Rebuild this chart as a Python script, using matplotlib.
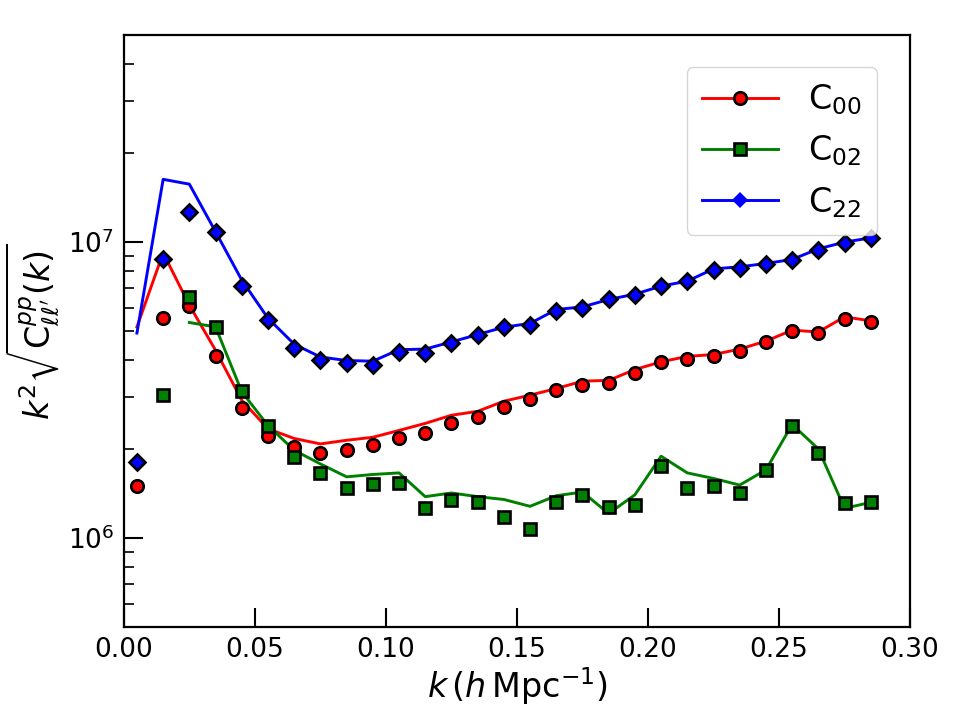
import matplotlib
matplotlib.use("Agg")
import matplotlib.pyplot as plt
from matplotlib.lines import Line2D
import numpy as np

plt.rcParams['font.family'] = ['DejaVu Sans']
plt.rcParams['mathtext.fontset'] = 'dejavusans'

k = [0.005, 0.015, 0.025, 0.035, 0.045, 0.055, 0.065, 0.075, 0.085, 0.095,
     0.105, 0.115, 0.125, 0.135, 0.145, 0.155, 0.165, 0.175, 0.185, 0.195,
     0.205, 0.215, 0.225, 0.235, 0.245, 0.255, 0.265, 0.275, 0.285]

# measured points (markers)
c00_pts = [1.50e6, 5.54e6, 6.07e6, 4.13e6, 2.76e6, 2.22e6, 2.03e6, 1.94e6, 1.99e6, 2.07e6,
           2.18e6, 2.27e6, 2.45e6, 2.56e6, 2.77e6, 2.94e6, 3.16e6, 3.30e6, 3.33e6, 3.62e6,
           3.92e6, 4.04e6, 4.13e6, 4.30e6, 4.59e6, 5.00e6, 4.93e6, 5.48e6, 5.36e6]
k02_pts = k[1:]
c02_pts = [3.04e6, 6.50e6, 5.17e6, 3.14e6, 2.39e6, 1.88e6, 1.66e6, 1.48e6, 1.52e6,
           1.53e6, 1.267e6, 1.34e6, 1.32e6, 1.18e6, 1.072e6, 1.327e6, 1.40e6, 1.27e6, 1.29e6,
           1.75e6, 1.48e6, 1.50e6, 1.42e6, 1.70e6, 2.40e6, 1.94e6, 1.31e6, 1.32e6]
c22_pts = [1.80e6, 8.74e6, 1.26e7, 1.084e7, 7.10e6, 5.45e6, 4.39e6, 4.01e6, 3.89e6, 3.84e6,
           4.25e6, 4.22e6, 4.56e6, 4.86e6, 5.16e6, 5.25e6, 5.86e6, 5.99e6, 6.40e6, 6.63e6,
           7.10e6, 7.37e6, 8.08e6, 8.19e6, 8.42e6, 8.71e6, 9.40e6, 9.95e6, 1.034e7]

# lines
c00_line = [5.17e6, 9.2e6, 6.12e6, 4.31e6, 2.92e6, 2.34e6, 2.17e6, 2.08e6, 2.14e6, 2.19e6,
            2.31e6, 2.44e6, 2.60e6, 2.68e6, 2.90e6, 3.04e6, 3.20e6, 3.39e6, 3.41e6, 3.71e6,
            3.94e6, 4.11e6, 4.17e6, 4.35e6, 4.63e6, 5.04e6, 4.97e6, 5.59e6, 5.42e6]
k02_line = k[2:]
c02_line = [5.35e6, 5.17e6, 3.12e6, 2.40e6, 1.98e6, 1.78e6, 1.61e6, 1.64e6,
            1.66e6, 1.38e6, 1.42e6, 1.38e6, 1.35e6, 1.28e6, 1.39e6, 1.43e6, 1.21e6, 1.40e6,
            1.89e6, 1.66e6, 1.59e6, 1.51e6, 1.70e6, 2.42e6, 2.00e6, 1.26e6, 1.32e6]
c22_line = [4.93e6, 1.63e7, 1.57e7, 1.084e7, 7.44e6, 5.53e6, 4.52e6, 4.09e6, 3.98e6, 3.96e6,
            4.33e6, 4.35e6, 4.60e6, 4.87e6, 5.16e6, 5.31e6, 5.92e6, 6.04e6, 6.40e6, 6.67e6,
            7.10e6, 7.38e6, 8.12e6, 8.25e6, 8.47e6, 8.74e6, 9.49e6, 1.0e7, 1.034e7]

labels = [r'C$_{00}$', r'C$_{02}$', r'C$_{22}$']

fig = plt.figure(figsize=(9.6, 7.2), dpi=100)
ax = fig.add_axes([0.129, 0.129, 0.819, 0.822])

lw = 2.1
mew = 1.9
ax.plot(k, c00_line, color='red', lw=lw, zorder=2)
ax.plot(k, c00_pts, ls='none', marker='o', ms=9, mfc='red', mec='black', mew=mew, zorder=3)
ax.plot(k02_line, c02_line, color='green', lw=lw, zorder=2)
ax.plot(k02_pts, c02_pts, ls='none', marker='s', ms=8.5, mfc='green', mec='black', mew=mew, zorder=4)
ax.plot(k, c22_line, color='blue', lw=lw, zorder=2)
ax.plot(k, c22_pts, ls='none', marker='D', ms=8.5, mfc='blue', mec='black', mew=mew, zorder=5)

ax.set_yscale('log')
ax.set_xlim(0.0, 0.30)
ax.set_ylim(5e5, 5e7)
ax.set_xticks([0.0, 0.05, 0.10, 0.15, 0.20, 0.25, 0.30])
ax.set_xticklabels(['0.00', '0.05', '0.10', '0.15', '0.20', '0.25', '0.30'])

ax.tick_params(axis='both', which='major', direction='in', length=14, width=1.5,
               labelsize=19, top=False, right=False, pad=7)
ax.tick_params(axis='y', which='minor', direction='in', length=7, width=1.2, right=False)
ax.tick_params(axis='x', which='minor', bottom=False)
for s in ax.spines.values():
    s.set_linewidth(1.6)

ax.set_xlabel(r'$k\,(h\,\mathrm{Mpc}^{-1})$', fontsize=24, labelpad=2)
ax.set_ylabel(r'$k^2\sqrt{\mathrm{C}^{pp}_{\ell\ell^{\prime}}(k)}$', fontsize=24, labelpad=4)

handles = [
    Line2D([], [], color='red', lw=lw, marker='o', ms=9, mfc='red', mec='black', mew=mew),
    Line2D([], [], color='green', lw=lw, marker='s', ms=8.5, mfc='green', mec='black', mew=mew),
    Line2D([], [], color='blue', lw=lw, marker='D', ms=8.5, mfc='blue', mec='blue', mew=0),
]
leg = ax.legend(handles, labels, loc='upper right', fontsize=24, frameon=True,
                borderpad=0.45, labelspacing=0.5, handlelength=2.3, handletextpad=0.9,
                borderaxespad=0.0, bbox_to_anchor=(0.958, 0.946))

fig.savefig('out.png', dpi=100)
